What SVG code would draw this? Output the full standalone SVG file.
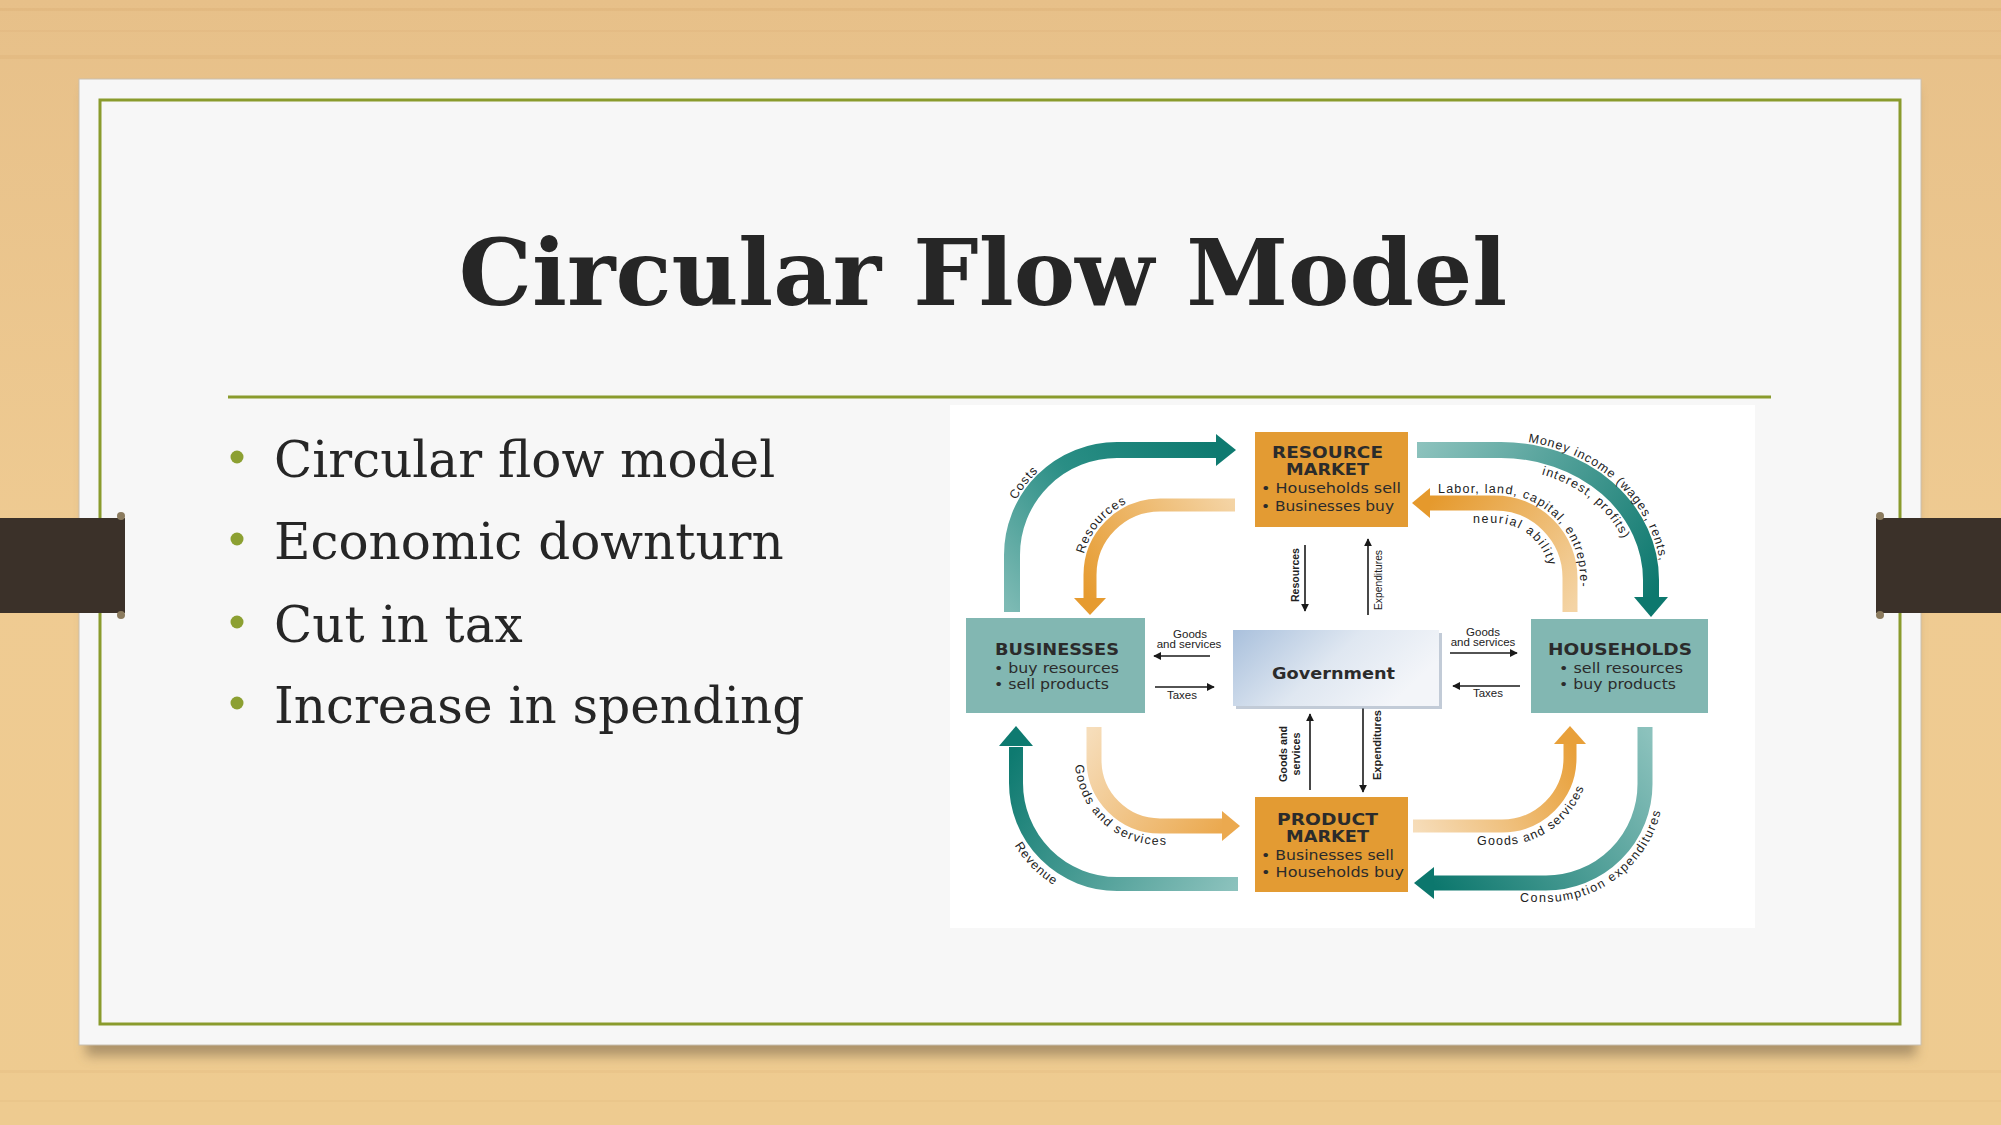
<svg xmlns="http://www.w3.org/2000/svg" width="2001" height="1125" viewBox="0 0 2001 1125">
<style>
.ttl{font-family:"DejaVu Serif","Liberation Serif",serif;font-weight:bold;font-size:92px;fill:#262626}
.bul{font-family:"DejaVu Serif","Liberation Serif",serif;font-size:50px;fill:#262626}
.bx{font-family:"DejaVu Sans","Liberation Sans",sans-serif;font-weight:bold;font-size:15.5px;fill:#2b2b2b}
.bi{font-family:"DejaVu Sans","Liberation Sans",sans-serif;font-size:13.5px;fill:#2b2b2b}
.sm{font-family:"Liberation Sans","DejaVu Sans",sans-serif;font-size:11.5px;fill:#222}
.vl{font-family:"Liberation Sans","DejaVu Sans",sans-serif;font-size:10.5px;fill:#222}
.cv{font-family:"Liberation Sans","DejaVu Sans",sans-serif;font-size:12.5px;fill:#222}
.thin{stroke:#1a1a1a;stroke-width:1.6;fill:none;marker-end:url(#ah)}
.band{fill:none;stroke-linecap:butt}
.obox{fill:#e39b33}
.tbox{fill:#82b7b2}
</style>
<defs>
<linearGradient id="wood" x1="0" y1="0" x2="0" y2="1">
<stop offset="0" stop-color="#e7c089"/><stop offset="0.5" stop-color="#efcb92"/><stop offset="1" stop-color="#eecb90"/>
</linearGradient>
<filter id="shadow" x="-5%" y="-5%" width="110%" height="115%"><feGaussianBlur stdDeviation="6"/></filter>
<marker id="ah" viewBox="0 0 10 10" refX="9" refY="5" markerWidth="5" markerHeight="5" orient="auto" markerUnits="strokeWidth"><path d="M0,0 L10,5 L0,10 z" fill="#1a1a1a"/></marker>
<linearGradient id="gov" x1="0" y1="0" x2="1" y2="0.4">
<stop offset="0" stop-color="#a9c0dc"/><stop offset="0.55" stop-color="#dfe7f1"/><stop offset="1" stop-color="#f3f5f9"/>
</linearGradient>
<linearGradient id="gCost" gradientUnits="userSpaceOnUse" x1="1012" y1="612" x2="1218" y2="450"><stop offset="0" stop-color="#7dbab4"/><stop offset="0.5" stop-color="#2a8e85"/><stop offset="1" stop-color="#0e7a70"/></linearGradient>
<linearGradient id="gMoney" gradientUnits="userSpaceOnUse" x1="1417" y1="450" x2="1651" y2="598"><stop offset="0" stop-color="#8cc2bd"/><stop offset="1" stop-color="#0d786e"/></linearGradient>
<linearGradient id="gRev" gradientUnits="userSpaceOnUse" x1="1238" y1="884" x2="1016" y2="747"><stop offset="0" stop-color="#8cc2bd"/><stop offset="1" stop-color="#0e7a70"/></linearGradient>
<linearGradient id="gCons" gradientUnits="userSpaceOnUse" x1="1645" y1="727" x2="1432" y2="883"><stop offset="0" stop-color="#8cc2bd"/><stop offset="1" stop-color="#0c776d"/></linearGradient>
<linearGradient id="gRes" gradientUnits="userSpaceOnUse" x1="1235" y1="505" x2="1090" y2="600"><stop offset="0" stop-color="#f4d4a5"/><stop offset="1" stop-color="#e69b30"/></linearGradient>
<linearGradient id="gLab" gradientUnits="userSpaceOnUse" x1="1570" y1="612" x2="1428" y2="503"><stop offset="0" stop-color="#f4d4a5"/><stop offset="1" stop-color="#e5992c"/></linearGradient>
<linearGradient id="gGl" gradientUnits="userSpaceOnUse" x1="1094" y1="727" x2="1224" y2="826"><stop offset="0" stop-color="#f6ddba"/><stop offset="1" stop-color="#eba94f"/></linearGradient>
<linearGradient id="gGr" gradientUnits="userSpaceOnUse" x1="1413" y1="826" x2="1570" y2="742"><stop offset="0" stop-color="#f6ddba"/><stop offset="1" stop-color="#e8a03a"/></linearGradient>
<path id="tpCost" d="M1002,555 A115,115 0 0 1 1117,440"/>
<path id="tpRes" d="M1081,575 A79,79 0 0 1 1160,496"/>
<path id="tpMoneyOut" d="M1501,440 A160,140 0 0 1 1661,580 L1661,600"/>
<path id="tpMoneyIn" d="M1460,469 L1501,469 A131,111 0 0 1 1632,580"/>
<path id="tpLabOut" d="M1420,493 L1495,493 A85,85 0 0 1 1580,578 L1580,620"/>
<path id="tpLabIn" d="M1440,523 L1495,523 A55,55 0 0 1 1550,578"/>
<path id="tpRev" d="M997,783 A120,120 0 0 0 1117,903"/>
<path id="tpGl" d="M1075,730 L1075,760 A85,85 0 0 0 1160,845 L1230,845"/>
<path id="tpGr" d="M1440,845 L1502,845 A87,87 0 0 0 1589,758 L1589,740"/>
<path id="tpCons" d="M1480,902 L1546,902 A118,118 0 0 0 1664,784 L1664,760"/>
</defs>

<!-- background wood -->
<rect x="0" y="0" width="2001" height="1125" fill="url(#wood)"/>
<g opacity="0.15">
<rect x="0" y="8" width="2001" height="3" fill="#c9955a"/>
<rect x="0" y="30" width="2001" height="2" fill="#d6a56a"/>
<rect x="0" y="55" width="2001" height="4" fill="#cf9d62"/>
<rect x="0" y="1070" width="2001" height="3" fill="#d6a86e"/>
<rect x="0" y="1100" width="2001" height="2" fill="#d9ab70"/>
</g>

<!-- slide panel -->
<g id="panel">
<rect x="86" y="90" width="1830" height="966" fill="#6e5d44" opacity="0.5" filter="url(#shadow)"/>
<rect x="79" y="79" width="1842" height="966" fill="#f7f7f7" stroke="#c9c0b0" stroke-width="1"/>
<rect x="100" y="100" width="1800" height="924" fill="none" stroke="#8a9b2d" stroke-width="3"/>
</g>

<!-- tabs -->
<g id="tab-left">
<rect x="0" y="518" width="125" height="95" fill="#3b3129"/>
<circle cx="121" cy="516" r="4" fill="#8b7b5e"/>
<circle cx="121" cy="615" r="4" fill="#8b7b5e"/>
</g>
<g id="tab-right">
<rect x="1876" y="518" width="125" height="95" fill="#3b3129"/>
<circle cx="1880" cy="516" r="4" fill="#8b7b5e"/>
<circle cx="1880" cy="615" r="4" fill="#8b7b5e"/>
</g>

<!-- title -->
<g id="title">
<text class="ttl" x="983" y="305" text-anchor="middle">Circular Flow Model</text>
<line x1="228" y1="397" x2="1771" y2="397" stroke="#8a9b2d" stroke-width="3"/>
</g>

<!-- bullets -->
<g id="bullets">
<circle cx="237" cy="457" r="6.5" fill="#8ca032"/>
<circle cx="237" cy="539" r="6.5" fill="#8ca032"/>
<circle cx="237" cy="622" r="6.5" fill="#8ca032"/>
<circle cx="237" cy="703" r="6.5" fill="#8ca032"/>
<text class="bul" x="274" y="477">Circular flow model</text>
<text class="bul" x="274" y="559">Economic downturn</text>
<text class="bul" x="274" y="642">Cut in tax</text>
<text class="bul" x="274" y="723">Increase in spending</text>
</g>

<!-- diagram image area -->
<rect x="950" y="405" width="805" height="523" fill="#ffffff"/>

<!-- connectors -->
<g id="connectors">
<path class="band" d="M1012,612 L1012,555 A105,105 0 0 1 1117,450 L1218,450" stroke="url(#gCost)" stroke-width="16"/>
<polygon points="1236,450 1216,434 1216,466" fill="#0e7a70"/>
<path class="band" d="M1235,505 L1160,505 A70,70 0 0 0 1090,575 L1090,600" stroke="url(#gRes)" stroke-width="13"/>
<polygon points="1090,615 1074,598 1106,598" fill="#e69b30"/>
<path class="band" d="M1417,450 L1501,450 A150,130 0 0 1 1651,580 L1651,599" stroke="url(#gMoney)" stroke-width="16"/>
<polygon points="1651,617 1634,597 1668,597" fill="#0d786e"/>
<path class="band" d="M1570,612 L1570,578 A75,75 0 0 0 1495,503 L1428,503" stroke="url(#gLab)" stroke-width="15"/>
<polygon points="1412,503 1430,488 1430,518" fill="#e5992c"/>
<path class="band" d="M1238,884 L1117,884 A101,101 0 0 1 1016,783 L1016,747" stroke="url(#gRev)" stroke-width="14"/>
<polygon points="1016,726 999,746 1033,746" fill="#0e7a70"/>
<path class="band" d="M1094,727 L1094,760 A66,66 0 0 0 1160,826 L1224,826" stroke="url(#gGl)" stroke-width="15"/>
<polygon points="1240,826 1222,811 1222,841" fill="#eba94f"/>
<path class="band" d="M1413,826 L1502,826 A68,68 0 0 0 1570,758 L1570,742" stroke="url(#gGr)" stroke-width="13"/>
<polygon points="1570,726 1554,744 1586,744" fill="#e8a03a"/>
<path class="band" d="M1645,727 L1645,784 A99,99 0 0 1 1546,883 L1432,883" stroke="url(#gCons)" stroke-width="15"/>
<polygon points="1414,883 1434,867 1434,899" fill="#0c776d"/>

<line class="thin" x1="1210" y1="656" x2="1154" y2="656"/>
<line class="thin" x1="1155" y1="687" x2="1214" y2="687"/>
<line class="thin" x1="1450" y1="653" x2="1517" y2="653"/>
<line class="thin" x1="1520" y1="686" x2="1453" y2="686"/>
<line class="thin" x1="1305" y1="545" x2="1305" y2="611"/>
<line class="thin" x1="1368" y1="615" x2="1368" y2="539"/>
<line class="thin" x1="1310" y1="790" x2="1310" y2="714"/>
<line class="thin" x1="1363" y1="708" x2="1363" y2="792"/>

<!-- connector labels -->
<text class="cv" font-size="13" letter-spacing="1"><textPath href="#tpCost" startOffset="42%" text-anchor="middle">Costs</textPath></text>
<text class="cv" letter-spacing="1"><textPath href="#tpRes" startOffset="45%" text-anchor="middle">Resources</textPath></text>
<text class="cv" letter-spacing="1"><textPath href="#tpMoneyOut" startOffset="27">Money income (wages, rents,</textPath></text>
<text class="cv" letter-spacing="1.2"><textPath href="#tpMoneyIn" startOffset="82">interest, profits)</textPath></text>
<text class="cv" letter-spacing="1.2"><textPath href="#tpLabOut" startOffset="18">Labor, land, capital, entrepre-</textPath></text>
<text class="cv" letter-spacing="1.6"><textPath href="#tpLabIn" startOffset="33">neurial ability</textPath></text>
<text class="cv" font-size="13" letter-spacing="1"><textPath href="#tpRev" startOffset="50%" text-anchor="middle">Revenue</textPath></text>
<text class="cv" font-size="13" letter-spacing="1.4"><textPath href="#tpGl" startOffset="35">Goods and services</textPath></text>
<text class="cv" font-size="13" letter-spacing="1.2"><textPath href="#tpGr" startOffset="37">Goods and services</textPath></text>
<text class="cv" font-size="13.5" letter-spacing="1.5"><textPath href="#tpCons" startOffset="40">Consumption expenditures</textPath></text>

<text class="sm" x="1190" y="638" text-anchor="middle">Goods</text>
<text class="sm" x="1189" y="648" text-anchor="middle">and services</text>
<text class="sm" x="1182" y="699" text-anchor="middle">Taxes</text>
<text class="sm" x="1483" y="636" text-anchor="middle">Goods</text>
<text class="sm" x="1483" y="646" text-anchor="middle">and services</text>
<text class="sm" x="1488" y="697" text-anchor="middle">Taxes</text>
<text class="vl" font-weight="bold" transform="translate(1299,575) rotate(-90)" text-anchor="middle" textLength="54" lengthAdjust="spacingAndGlyphs">Resources</text>
<text class="vl" transform="translate(1382,580) rotate(-90)" text-anchor="middle" textLength="60" lengthAdjust="spacingAndGlyphs">Expenditures</text>
<text class="vl" font-weight="bold" transform="translate(1287,754) rotate(-90)" text-anchor="middle" textLength="56" lengthAdjust="spacingAndGlyphs">Goods and</text>
<text class="vl" font-weight="bold" transform="translate(1300,754) rotate(-90)" text-anchor="middle" textLength="43" lengthAdjust="spacingAndGlyphs">services</text>
<text class="vl" font-weight="bold" transform="translate(1381,745) rotate(-90)" text-anchor="middle" textLength="70" lengthAdjust="spacingAndGlyphs">Expenditures</text>
</g>

<!-- nodes -->
<g id="resource-market">
<rect class="obox" x="1255" y="432" width="153" height="95"/>
<text class="bx" x="1272" y="458" textLength="111" lengthAdjust="spacingAndGlyphs">RESOURCE</text>
<text class="bx" x="1286" y="475" textLength="83" lengthAdjust="spacingAndGlyphs">MARKET</text>
<text class="bi" x="1261" y="493" textLength="140" lengthAdjust="spacingAndGlyphs">• Households sell</text>
<text class="bi" x="1261" y="511" textLength="133" lengthAdjust="spacingAndGlyphs">• Businesses buy</text>
</g>
<g id="product-market">
<rect class="obox" x="1255" y="797" width="153" height="95"/>
<text class="bx" x="1277" y="825" textLength="101" lengthAdjust="spacingAndGlyphs">PRODUCT</text>
<text class="bx" x="1286" y="842" textLength="83" lengthAdjust="spacingAndGlyphs">MARKET</text>
<text class="bi" x="1261" y="860" textLength="133" lengthAdjust="spacingAndGlyphs">• Businesses sell</text>
<text class="bi" x="1261" y="877" textLength="143" lengthAdjust="spacingAndGlyphs">• Households buy</text>
</g>
<g id="businesses">
<rect class="tbox" x="966" y="618" width="179" height="95"/>
<text class="bx" x="995" y="655" textLength="124" lengthAdjust="spacingAndGlyphs">BUSINESSES</text>
<text class="bi" x="994" y="673" textLength="125" lengthAdjust="spacingAndGlyphs">• buy resources</text>
<text class="bi" x="994" y="689" textLength="115" lengthAdjust="spacingAndGlyphs">• sell products</text>
</g>
<g id="households">
<rect class="tbox" x="1531" y="619" width="177" height="94"/>
<text class="bx" x="1548" y="655" textLength="144" lengthAdjust="spacingAndGlyphs">HOUSEHOLDS</text>
<text class="bi" x="1559" y="673" textLength="124" lengthAdjust="spacingAndGlyphs">• sell resources</text>
<text class="bi" x="1559" y="689" textLength="117" lengthAdjust="spacingAndGlyphs">• buy products</text>
</g>
<g id="government">
<rect x="1236" y="633" width="206" height="76" fill="#9aa9bd" opacity="0.6"/>
<rect x="1233" y="630" width="206" height="76" fill="url(#gov)"/>
<text class="bx" font-size="17" x="1272" y="679" textLength="123" lengthAdjust="spacingAndGlyphs">Government</text>
</g>
</svg>
